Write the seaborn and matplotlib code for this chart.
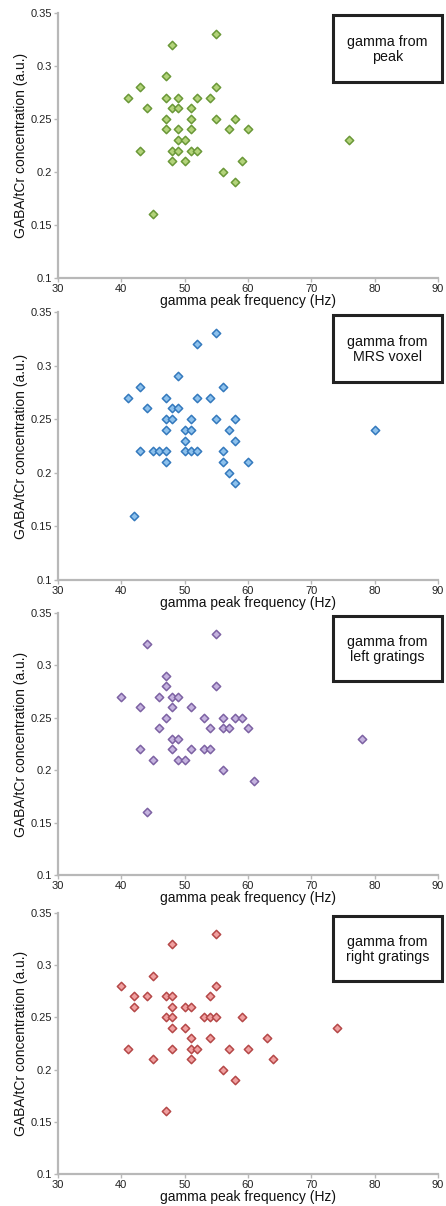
import numpy as np
import pandas as pd
import matplotlib
matplotlib.use('Agg')
import matplotlib.pyplot as plt
import seaborn as sns
from matplotlib.patches import Rectangle

# gamma from peak
peak_freq = [55, 48, 47, 43, 55, 41, 47, 49, 52, 54, 44, 48, 49, 51, 47, 51, 55, 58,
             47, 49, 51, 57, 60, 49, 50, 76, 43, 48, 49, 51, 52, 48, 50, 59, 56, 58, 45]
peak_gaba = [0.33, 0.32, 0.29, 0.28, 0.28, 0.27, 0.27, 0.27, 0.27, 0.27, 0.26, 0.26, 0.26, 0.26,
             0.25, 0.25, 0.25, 0.25, 0.24, 0.24, 0.24, 0.24, 0.24, 0.23, 0.23, 0.23, 0.22, 0.22,
             0.22, 0.22, 0.22, 0.21, 0.21, 0.21, 0.20, 0.19, 0.16]

# gamma from MRS voxel
mrs_freq = [55, 52, 49, 43, 56, 41, 47, 52, 54, 44, 48, 49, 47, 48, 51, 55, 58, 47, 50,
            51, 57, 80, 50, 58, 43, 45, 46, 47, 50, 51, 52, 56, 47, 56, 60, 57, 58, 42]
mrs_gaba = [0.33, 0.32, 0.29, 0.28, 0.28, 0.27, 0.27, 0.27, 0.27, 0.26, 0.26, 0.26, 0.25,
            0.25, 0.25, 0.25, 0.25, 0.24, 0.24, 0.24, 0.24, 0.24, 0.23, 0.23, 0.22, 0.22,
            0.22, 0.22, 0.22, 0.22, 0.22, 0.22, 0.21, 0.21, 0.21, 0.20, 0.19, 0.16]

# gamma from left gratings
left_freq = [55, 44, 47, 47, 55, 40, 46, 48, 49, 43, 48, 51, 47, 53, 56, 58, 59, 46,
             54, 56, 57, 60, 48, 49, 78, 43, 48, 51, 53, 54, 45, 49, 50, 56, 61, 44]
left_gaba = [0.33, 0.32, 0.29, 0.28, 0.28, 0.27, 0.27, 0.27, 0.27, 0.26, 0.26, 0.26,
             0.25, 0.25, 0.25, 0.25, 0.25, 0.24, 0.24, 0.24, 0.24, 0.24, 0.23, 0.23,
             0.23, 0.22, 0.22, 0.22, 0.22, 0.22, 0.21, 0.21, 0.21, 0.20, 0.19, 0.16]

# gamma from right gratings
right_freq = [55, 48, 45, 40, 55, 42, 44, 47, 48, 54, 42, 48, 50, 51, 47, 48, 53, 54, 55,
              59, 48, 50, 74, 51, 54, 63, 41, 48, 51, 52, 57, 60, 45, 51, 64, 56, 58, 47]
right_gaba = [0.33, 0.32, 0.29, 0.28, 0.28, 0.27, 0.27, 0.27, 0.27, 0.27, 0.26, 0.26, 0.26,
              0.26, 0.25, 0.25, 0.25, 0.25, 0.25, 0.25, 0.24, 0.24, 0.24, 0.23, 0.23, 0.23,
              0.22, 0.22, 0.22, 0.22, 0.22, 0.22, 0.21, 0.21, 0.21, 0.20, 0.19, 0.16]

panels = [
    (peak_freq, peak_gaba, 'gamma from\npeak', '#b3d37a', '#6a9838'),
    (mrs_freq, mrs_gaba, 'gamma from\nMRS voxel', '#8dc1ec', '#3479bd'),
    (left_freq, left_gaba, 'gamma from\nleft gratings', '#c5b3df', '#7d62a3'),
    (right_freq, right_gaba, 'gamma from\nright gratings', '#f0a0a0', '#b54848'),
]

x_ticks = [30, 40, 50, 60, 70, 80, 90]
y_ticks = [0.1, 0.15, 0.2, 0.25, 0.3, 0.35]
y_tick_labels = ['0.1', '0.15', '0.2', '0.25', '0.3', '0.35']

sns.set_style('white')
plt.rcParams['font.family'] = ['Liberation Sans', 'DejaVu Sans']

fig = plt.figure(figsize=(4.46, 12.06), dpi=100)

# axes positions in figure fraction
tops = [0.9895, 0.7413, 0.4917, 0.2430]
bottoms = [0.7695, 0.5191, 0.2745, 0.0265]

spine_col = '#b8b8b8'
for (freq, gaba, label, face, edge), top, bot in zip(panels, tops, bottoms):
    ax = fig.add_axes([0.13, bot, 0.852, top - bot])
    df = pd.DataFrame({'freq': freq, 'gaba': gaba})
    sns.scatterplot(data=df, x='freq', y='gaba', ax=ax, marker='D', s=18,
                    color=face, edgecolor=edge, linewidth=1.1, zorder=3)
    ax.set_xlim(30, 90)
    ax.set_ylim(0.1, 0.35)
    ax.set_xticks(x_ticks)
    ax.set_xticklabels([str(t) for t in x_ticks])
    ax.set_yticks(y_ticks)
    ax.set_yticklabels(y_tick_labels)
    ax.tick_params(axis='both', labelsize=8, length=3, width=1, color=spine_col,
                   direction='out', pad=1, bottom=True, left=True, labelcolor='#222222')
    for side in ['top', 'right']:
        ax.spines[side].set_visible(False)
    for side in ['left', 'bottom']:
        ax.spines[side].set_color(spine_col)
        ax.spines[side].set_linewidth(1.6)
    ax.set_xlabel('gamma peak frequency (Hz)', fontsize=10, labelpad=0, color='#111111')
    ax.set_ylabel('GABA/tCr concentration (a.u.)', fontsize=10, labelpad=2, color='#111111')
    ax.grid(False)

    # label box in the top-right corner
    box = Rectangle((0.725, 0.74), 0.285, 0.25, transform=ax.transAxes, fill=True,
                    facecolor='white', edgecolor='#222222', linewidth=2.2, clip_on=False, zorder=5)
    ax.add_patch(box)
    ax.text(0.8675, 0.86, label, transform=ax.transAxes, ha='center', va='center',
            fontsize=10.3, linespacing=1.1, color='#111111', zorder=6, clip_on=False)

fig.savefig('out.png', dpi=100)
